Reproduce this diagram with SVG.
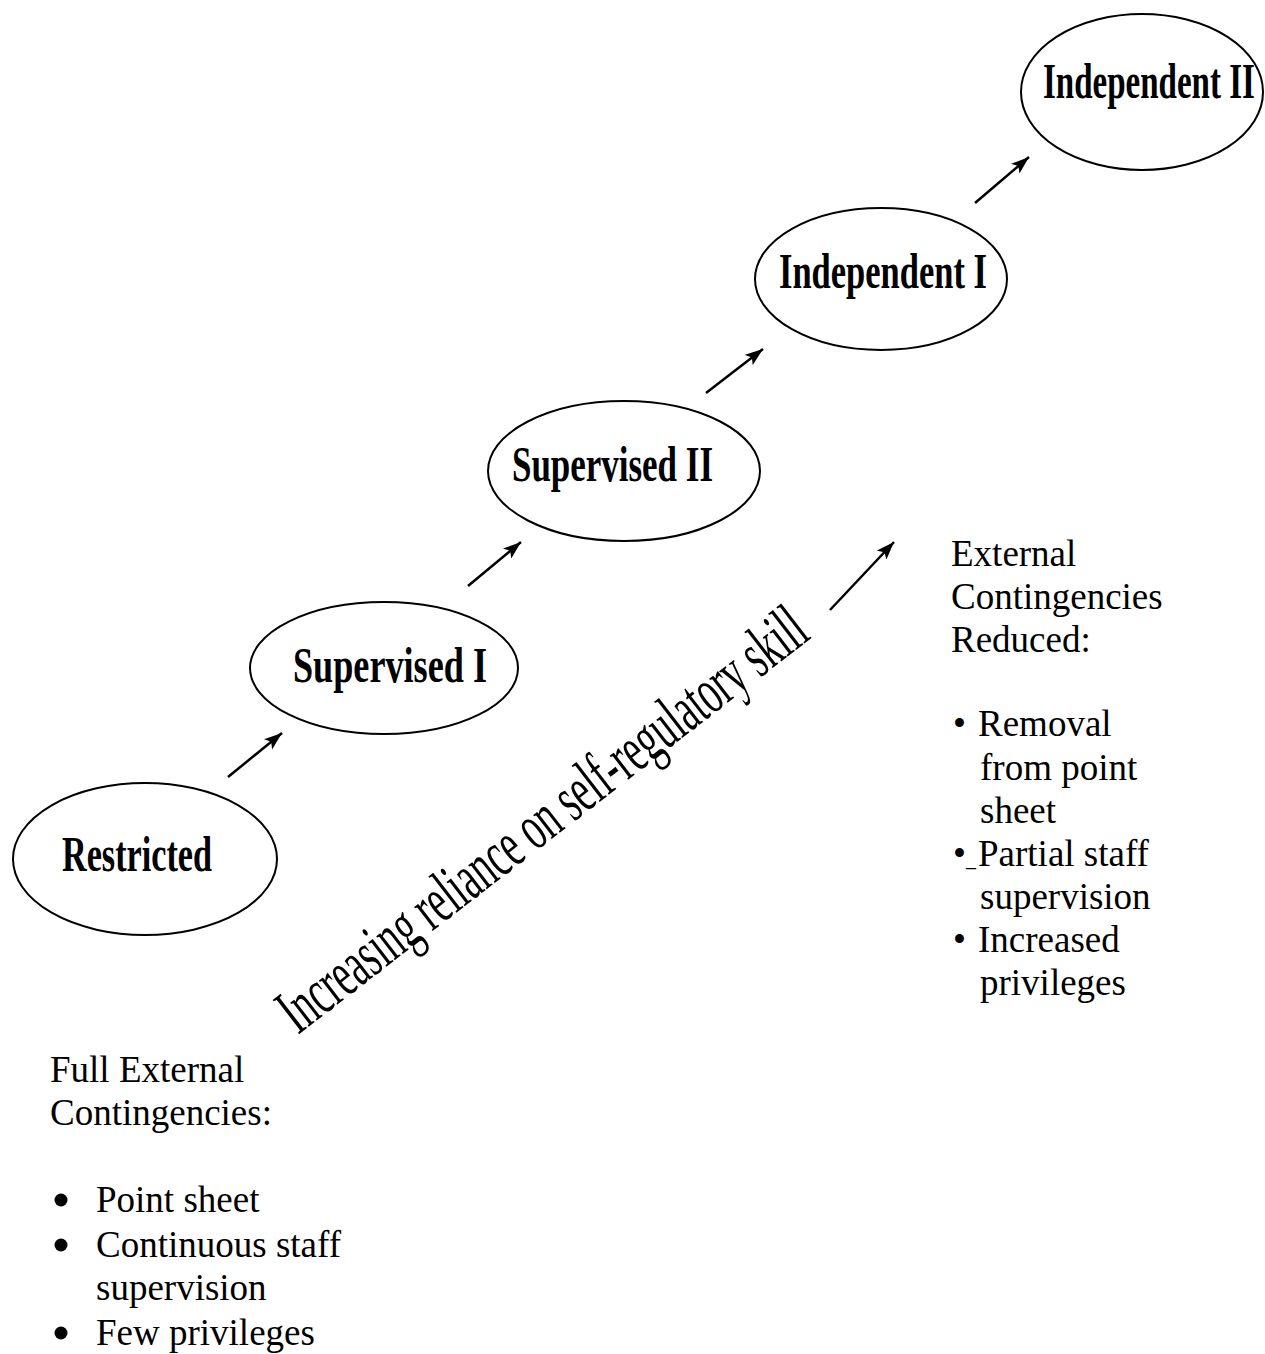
<svg xmlns="http://www.w3.org/2000/svg" width="1265" height="1354" viewBox="0 0 1265 1354">
<defs>
<marker id="ah" viewBox="0 0 18 13" refX="18" refY="6.5" markerWidth="18" markerHeight="13" markerUnits="userSpaceOnUse" orient="auto">
<path d="M0,0 L18,6.5 L0,13 L4,6.5 Z" fill="#000"/>
</marker>
<style>
.node ellipse{fill:#fff;stroke:#000;stroke-width:2}
.lbl{font-family:"Liberation Serif","Times New Roman",serif;font-weight:bold;font-size:50px;fill:#000}
.conn line{stroke:#000;stroke-width:2.5;marker-end:url(#ah)}
.body{font-family:"Liberation Serif","Times New Roman",serif;font-size:37px;fill:#000}
.dot{fill:#000}
.diag{font-family:"Liberation Serif","Times New Roman",serif;font-size:66px;fill:#000}
</style>
</defs>
<rect width="1265" height="1354" fill="#fff"/>
<g id="restricted" class="node">
<ellipse cx="145" cy="859" rx="132" ry="76"/>
<text class="lbl" x="62" y="871" textLength="150" lengthAdjust="spacingAndGlyphs">Restricted</text>
</g>
<g id="supervised1" class="node">
<ellipse cx="384" cy="668" rx="134" ry="66"/>
<text class="lbl" x="293" y="682" textLength="194" lengthAdjust="spacingAndGlyphs">Supervised I</text>
</g>
<g id="supervised2" class="node">
<ellipse cx="624" cy="471" rx="136" ry="70"/>
<text class="lbl" x="512" y="481" textLength="201" lengthAdjust="spacingAndGlyphs">Supervised II</text>
</g>
<g id="independent1" class="node">
<ellipse cx="881" cy="279" rx="126" ry="71"/>
<text class="lbl" x="779" y="288" textLength="208" lengthAdjust="spacingAndGlyphs">Independent I</text>
</g>
<g id="independent2" class="node">
<ellipse cx="1142" cy="92" rx="121" ry="78"/>
<text class="lbl" x="0" y="0" transform="translate(1043,98) scale(0.66,1)">Independent II</text>
</g>
<g id="connectors" class="conn">
<line x1="228" y1="777" x2="282" y2="733"/>
<line x1="468" y1="586" x2="521" y2="542"/>
<line x1="706" y1="393" x2="763" y2="349"/>
<line x1="975" y1="203" x2="1029" y2="157"/>
<line x1="830" y1="610" x2="894" y2="542"/>
</g>
<g id="axis-label">
<text class="diag" transform="translate(298,1035) rotate(-37.7)" x="0" y="0" textLength="650" lengthAdjust="spacingAndGlyphs">Increasing reliance on self-regulatory skill</text>
</g>
<g id="reduced-list" class="body">
<text x="951" y="566">External</text>
<text x="951" y="609">Contingencies</text>
<text x="951" y="652">Reduced:</text>
<text x="953" y="736">•</text><text x="978" y="736">Removal</text>
<text x="980" y="780">from point</text>
<text x="980" y="823">sheet</text>
<text x="953" y="866">•</text><text x="966" y="866" font-size="20">_</text><text x="978" y="866">Partial staff</text>
<text x="980" y="909">supervision</text>
<text x="953" y="952">•</text><text x="978" y="952">Increased</text>
<text x="980" y="995">privileges</text>
</g>
<g id="full-list" class="body">
<text x="50" y="1082">Full External</text>
<text x="50" y="1125">Contingencies:</text>
<circle class="dot" cx="61" cy="1200" r="6.5"/><text x="96" y="1212">Point sheet</text>
<circle class="dot" cx="61" cy="1245" r="6.5"/><text x="96" y="1257">Continuous staff</text>
<text x="96" y="1300">supervision</text>
<circle class="dot" cx="61" cy="1333" r="6.5"/><text x="96" y="1345">Few privileges</text>
</g>
</svg>
